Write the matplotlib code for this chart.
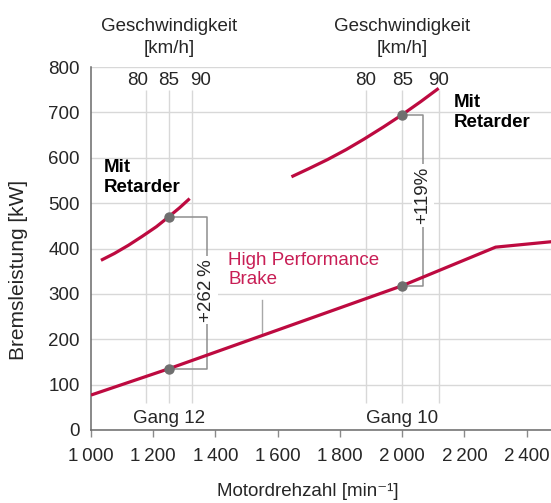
import numpy as np
import matplotlib.pyplot as plt

plt.rcParams['font.family'] = ['Liberation Sans', 'DejaVu Sans']
plt.rcParams['font.size'] = 13.5

# data
hpb_rpm = [1000, 1250, 2000, 2300, 2480]
hpb_kw = [77, 135, 318, 403, 415]

ret12_rpm = [1032, 1075, 1120, 1165, 1210, 1250, 1285, 1317]
ret12_kw = [374, 389, 407, 427, 448, 470, 490, 510]

ret10_rpm = [1644, 1700, 1760, 1820, 1877, 1940, 2000, 2060, 2117]
ret10_kw = [558, 576, 596, 618, 641, 668, 695, 724, 753]

gears = ['Gang 12', 'Gang 10']
gear_rpm85 = [1250, 2000]          # engine speed at 85 km/h
ret_at85 = [470, 695]
hpb_at85 = [135, 318]
gain_txt = ['+262\u2009%', '+119%']
speeds = [80, 85, 90]
speed_lbl_x = [[1150, 1250, 1352], [1882, 2000, 2118]]

xticks = [1000, 1200, 1400, 1600, 1800, 2000, 2200, 2400]
xtick_lbl = ['1\u2009000', '1\u2009200', '1\u2009400', '1\u2009600',
             '1\u2009800', '2\u2009000', '2\u2009200', '2\u2009400']
yticks = [0, 100, 200, 300, 400, 500, 600, 700, 800]

red = '#bd0a40'
red_txt = '#c81e55'
grey_pt = '#6f6f6f'
grey_ln = '#8e8e8e'
txt_col = '#262626'

fig = plt.figure(figsize=(5.51, 5.03), dpi=100)
ax = fig.add_axes([91/551, 73/503, 460/551, 363/503])

ax.set_xlim(1000, 2478)
ax.set_ylim(0, 800)
ax.set_yticks(yticks)
ax.set_xticks(xticks)
ax.set_xticklabels(xtick_lbl)
ax.yaxis.grid(True, color='#d8d8d8', lw=1)
ax.set_axisbelow(True)
for s in ['top', 'right']:
    ax.spines[s].set_visible(False)
for s in ['left', 'bottom']:
    ax.spines[s].set_color('#6a6a6a')
    ax.spines[s].set_linewidth(1.1)
ax.tick_params(axis='y', length=0, pad=8, colors=txt_col)
ax.tick_params(axis='x', length=5, width=1, color='#8a8a8a', pad=8, labelcolor=txt_col)

ax.set_ylabel('Bremsleistung [kW]', color=txt_col, fontsize=15)
ax.yaxis.set_label_coords(-0.138, 0.44)
ax.set_xlabel('Motordrehzahl [min\u207b\u00b9]', color=txt_col)
ax.xaxis.set_label_coords(0.472, -0.146)

# speed guide lines
for g in range(2):
    vx = [gear_rpm85[g] * v / 85 for v in speeds]
    ax.vlines(vx, 60, 750, color='#d8d8d8', lw=1, zorder=1)
    for v, lx in zip(speeds, speed_lbl_x[g]):
        ax.text(lx, 760, str(v), ha='center', va='baseline', color=txt_col)
    ax.text(gear_rpm85[g], 823, 'Geschwindigkeit\n[km/h]', ha='center', va='bottom',
            color=txt_col, linespacing=1.35, clip_on=False)
    ax.text(gear_rpm85[g], 15, gears[g], ha='center', va='baseline', color=txt_col)

# curves
ax.plot(hpb_rpm, hpb_kw, color=red, lw=2.3, solid_capstyle='butt', zorder=4)
ax.plot(ret12_rpm, ret12_kw, color=red, lw=2.3, solid_capstyle='butt', zorder=4)
ax.plot(ret10_rpm, ret10_kw, color=red, lw=2.3, solid_capstyle='butt', zorder=4)

# gain brackets
br_x = [1372, 2067]
br_ty = [308, 516]
for g in range(2):
    x0 = gear_rpm85[g]
    ax.plot([x0, br_x[g], br_x[g], x0], [ret_at85[g], ret_at85[g], hpb_at85[g], hpb_at85[g]],
            color=grey_ln, lw=1.1, zorder=3)
    ax.text(br_x[g], br_ty[g], gain_txt[g], rotation=90, ha='center', va='center',
            color=txt_col, zorder=5,
            bbox=dict(facecolor='white', edgecolor='none', pad=2))
    ax.plot([x0, x0], [ret_at85[g], hpb_at85[g]], ls='none', marker='o', ms=6.5,
            color=grey_pt, zorder=6)

# labels
ax.text(1040, 597, 'Mit\nRetarder', ha='left', va='top', fontweight='bold', color='black',
        linespacing=1.25)
ax.text(2164, 740, 'Mit\nRetarder', ha='left', va='top', fontweight='bold', color='black',
        linespacing=1.25)
ax.text(1441, 393, 'High Performance\nBrake', ha='left', va='top', color=red_txt,
        linespacing=1.2)
ax.plot([1549, 1549], [286, 211], color='#a8a8a8', lw=1, zorder=3)

fig.savefig('out.png', dpi=100)
